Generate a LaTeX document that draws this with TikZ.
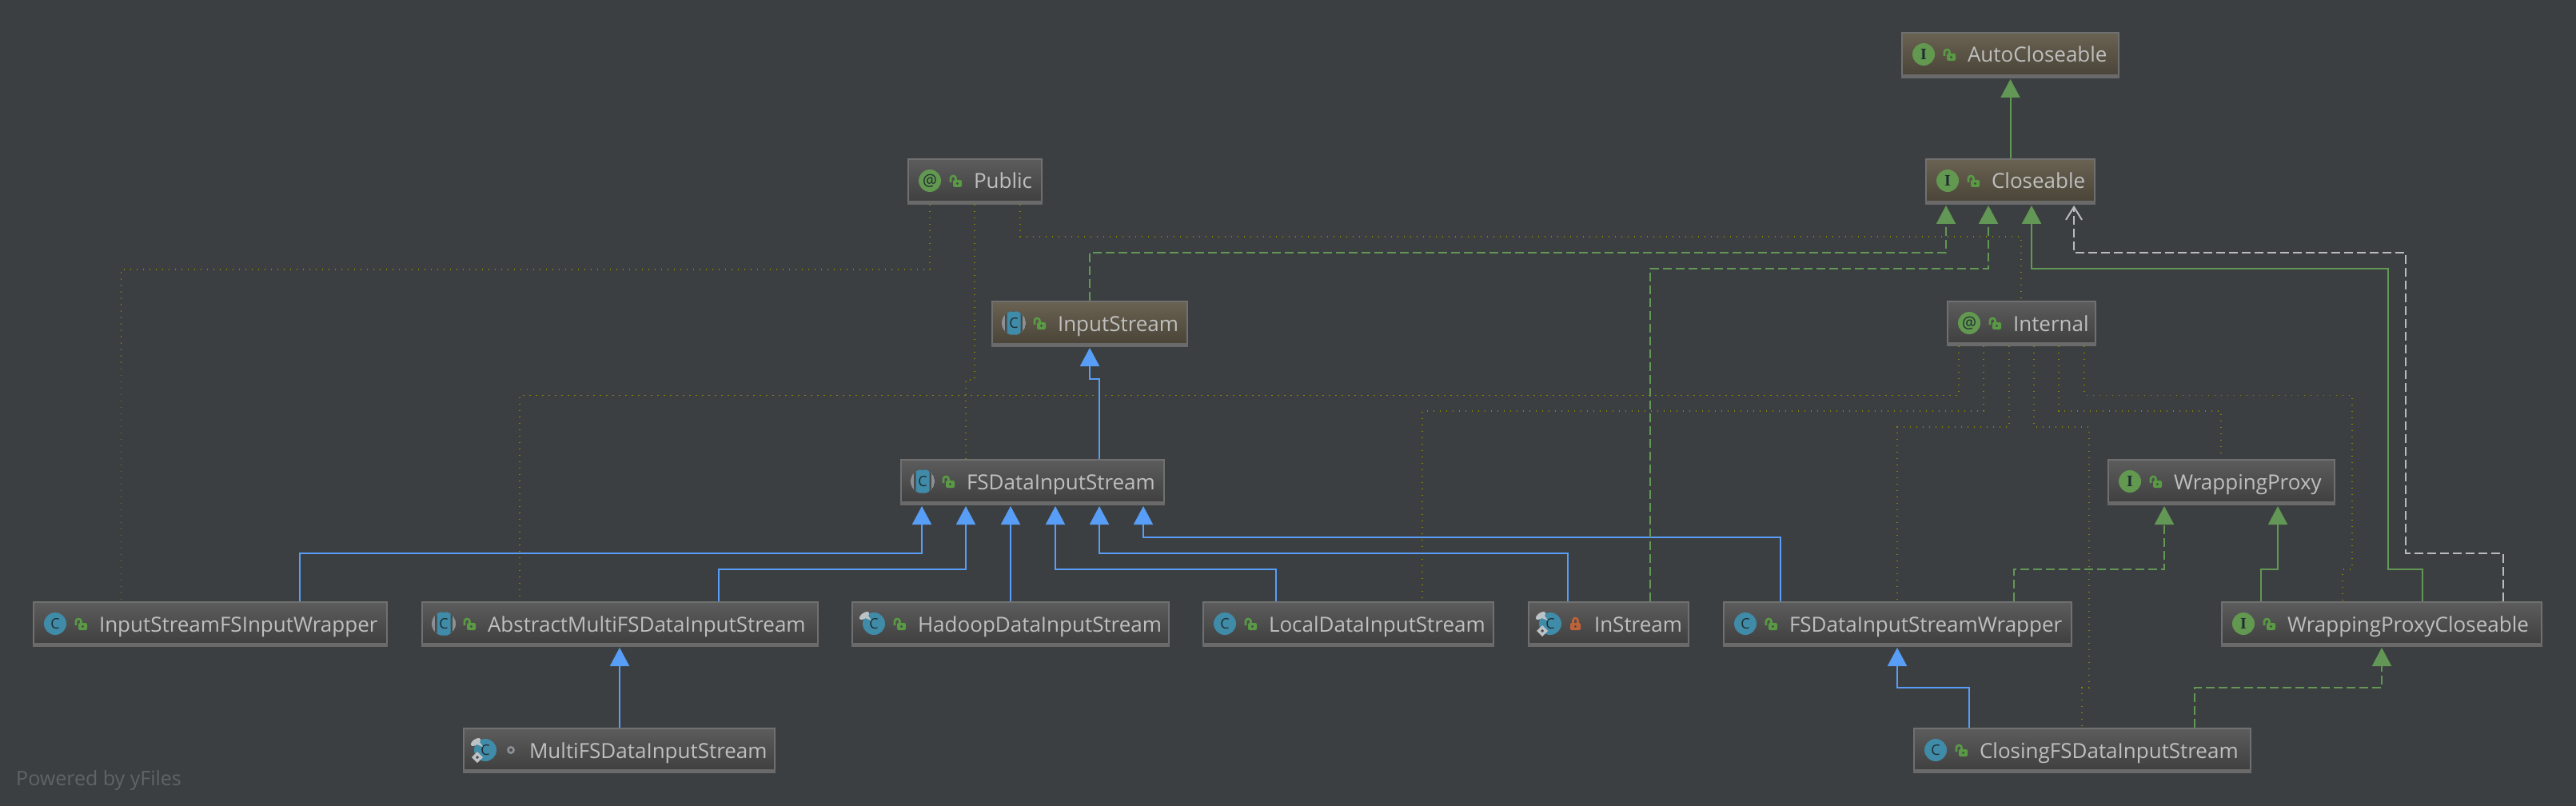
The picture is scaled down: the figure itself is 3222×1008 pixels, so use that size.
\documentclass[tikz,border=0pt]{standalone}
\usepackage{fontspec}
\setmainfont{Open Sans}
\newfontfamily\serifbold{Liberation Serif}
\usetikzlibrary{arrows.meta,calc}
\definecolor{bgc}{HTML}{3C3F41}
\definecolor{txt}{HTML}{BFBFBF}
\definecolor{bord}{HTML}{707070}
\definecolor{bar}{HTML}{6A6A6A}
\definecolor{blueline}{HTML}{589DF6}
\definecolor{greenline}{HTML}{629755}
\definecolor{grayline}{HTML}{BBBBBB}
\definecolor{dotc}{HTML}{858500}
\definecolor{classc}{HTML}{3F8BA8}
\definecolor{greenc}{HTML}{62984F}
\definecolor{lockg}{HTML}{5A9A45}
\definecolor{locko}{HTML}{BF6238}
\definecolor{icontxt}{HTML}{1F2D33}
\definecolor{pale}{HTML}{BCC2C5}
\definecolor{ringc}{HTML}{8C9094}
\definecolor{boxtop}{HTML}{5C5C5C}
\definecolor{boxbot}{HTML}{3E3E3E}
\definecolor{browntop}{HTML}{6A6252}
\definecolor{brownbot}{HTML}{484337}
\definecolor{gapc}{HTML}{4A4A4A}
\definecolor{yfc}{HTML}{606466}
\tikzset{
  x=1pt,y=-1pt,
  plainbox/.style={draw=bord,line width=2pt,inner sep=0pt,top color=boxtop,bottom color=boxbot,text=txt,font=\fontsize{26}{30}\selectfont},
  brownbox/.style={plainbox,top color=browntop,bottom color=brownbot},
  iconc/.style={circle,inner sep=0pt,minimum size=28pt,text=icontxt},
  ext/.style={draw=blueline,line width=2pt,shorten >=1pt,-{Triangle[width=24pt,length=23pt,fill=blueline]}},
  inh/.style={draw=greenline,line width=2pt,shorten >=1pt,-{Triangle[width=24pt,length=23pt,fill=greenline]}},
  impl/.style={inh,dash pattern=on 11pt off 5pt},
  dep/.style={draw=grayline,line width=2pt,dash pattern=on 11pt off 5pt,shorten >=1pt,-{Straight Barb[width=20pt,length=16pt]}},
  note/.style={draw=dotc,line width=1.2pt,dash pattern=on 1.2pt off 6.8pt},
}
% icons, in coordinates relative to the box corner
\newcommand{\icC}{\node[iconc,fill=classc,font=\fontsize{18}{18}\selectfont] at (28,28) {C};}
\newcommand{\icI}{\node[iconc,fill=greenc,font=\fontsize{20}{20}\serifbold\bfseries] at (28,28) {I};}
\newcommand{\icAt}{\node[iconc,fill=greenc,font=\fontsize{20}{20}\selectfont] at (28,28) {@};}
\newcommand{\icA}{%
  \begin{scope}
    \clip (28,28) circle[radius=15];
    \fill[ringc] (28,28) circle[radius=15];
    \fill[gapc] (17,13) rectangle (39,43);
    \fill[classc,rounded corners=3pt] (19.5,13.5) rectangle (36.5,42.5);
  \end{scope}
  \node[text=icontxt,inner sep=0pt,font=\fontsize{18}{18}\selectfont] at (28,28) {C};}
\newcommand{\pinmark}{%
  \fill[pale] (15,20) -- (19,15) -- (25,24) -- cycle;
  \fill[pale,rotate around={35:(16,18)}] (16,18) ellipse[x radius=7,y radius=3.5];}
\newcommand{\diamark}{\fill[pale] (18,30) -- (25,37) -- (18,44) -- (11,37) -- cycle;
  \fill[gapc] (18,35) -- (20,37) -- (18,39) -- (16,37) -- cycle;}
\newcommand{\icH}{\icC\pinmark}
\newcommand{\icF}{\icC\pinmark\diamark}
\newcommand{\lockopen}{%
  \draw[lockg,line width=2.6pt,rounded corners=3pt] (54,30) -- (54,22) -- (60.5,22) -- (60.5,27);
  \fill[lockg,rounded corners=2pt] (57,27) rectangle (68,36);
  \fill[gapc] (62.5,31.5) circle[radius=1.6];}
\newcommand{\lockshut}{%
  \draw[locko,line width=2.6pt,rounded corners=3pt] (56.5,27) -- (56.5,21) -- (62.5,21) -- (62.5,27);
  \fill[locko,rounded corners=2pt] (53,27) rectangle (66,36);
  \fill[gapc] (59.5,31.5) circle[radius=1.6];}
\newcommand{\lockpkg}{%
  \fill[ringc] (60,28) circle[radius=5];
  \fill[gapc] (60,28) circle[radius=2];}
% id, left, top, right, bottom, style, icon, access, text
\newcommand{\umlbox}[9]{%
  \pgfmathsetlengthmacro{\bw}{#4-#2-2}%
  \pgfmathsetlengthmacro{\bh}{#5-#3-2}%
  \pgfmathsetlengthmacro{\bd}{#5-#3-2-37}%
  \begin{scope}[shift={(#2,#3)}]
    \node[#6,minimum width=\bw,minimum height=\bh,anchor=north west] (#1) at (0,0)
      {\hbox to \bw{\hspace{82pt}\rule[-\bd]{0pt}{\bh}#9\hss}};
    \fill[bar] (#1.south west) rectangle ++(#4-#2,-5);
    #7#8
  \end{scope}}
\begin{document}
\begin{tikzpicture}
\useasboundingbox (0,0) rectangle (3222,1008);
\fill[bgc] (0,0) rectangle (3222,1008);

\umlbox{auto}{2378}{40}{2651}{98}{brownbox}{\icI}{\lockopen}{AutoCloseable}
\umlbox{close}{2408}{198}{2621}{256}{brownbox}{\icI}{\lockopen}{Closeable}
\umlbox{pub}{1135}{198}{1304}{256}{plainbox}{\icAt}{\lockopen}{Public}
\umlbox{inp}{1240}{376}{1486}{434}{brownbox}{\icA}{\lockopen}{InputStream}
\umlbox{int}{2435}{376}{2622}{433}{plainbox}{\icAt}{\lockopen}{Internal}
\umlbox{fsd}{1126}{574}{1457}{632}{plainbox}{\icA}{\lockopen}{FSDataInputStream}
\umlbox{wp}{2636}{574}{2921}{632}{plainbox}{\icI}{\lockopen}{WrappingProxy}
\umlbox{isw}{41}{752}{485}{809}{plainbox}{\icC}{\lockopen}{InputStreamFSInputWrapper}
\umlbox{abs}{527}{752}{1024}{809}{plainbox}{\icA}{\lockopen}{AbstractMultiFSDataInputStream}
\umlbox{had}{1065}{752}{1463}{809}{plainbox}{\icH}{\lockopen}{HadoopDataInputStream}
\umlbox{loc}{1504}{752}{1869}{809}{plainbox}{\icC}{\lockopen}{LocalDataInputStream}
\umlbox{ins}{1911}{752}{2113}{809}{plainbox}{\icF}{\lockshut}{InStream}
\umlbox{fsw}{2155}{752}{2592}{809}{plainbox}{\icC}{\lockopen}{FSDataInputStreamWrapper}
\umlbox{wpc}{2778}{752}{3180}{809}{plainbox}{\icI}{\lockopen}{WrappingProxyCloseable}
\umlbox{mul}{579}{910}{970}{967}{plainbox}{\icF}{\lockpkg}{MultiFSDataInputStream}
\umlbox{cls}{2393}{910}{2816}{967}{plainbox}{\icC}{\lockopen}{ClosingFSDataInputStream}

\node[anchor=west,inner sep=0pt,text=yfc,font=\fontsize{25}{28}\selectfont] (yf) at (20,976) {Powered by yFiles};

% annotation links
\draw[note] (1163,0 |- pub.south) -- (1163,337) -- (151.5,337) -- (151.5,0 |- isw.north);
\draw[note] (1219,0 |- pub.south) -- (1219,475) -- (1208,475) -- (1208,0 |- fsd.north);
\draw[note] (1276,0 |- pub.south) -- (1276,296) -- (2528,296) -- (2528,0 |- int.north);
\draw[note] (2450,0 |- int.south) -- (2450,494.5) -- (650,494.5) -- (650,0 |- abs.north);
\draw[note] (2481,0 |- int.south) -- (2481,514) -- (1779,514) -- (1779,0 |- loc.north);
\draw[note] (2513,0 |- int.south) -- (2513,534) -- (2373,534) -- (2373,0 |- fsw.north);
\draw[note] (2544,0 |- int.south) -- (2544,534) -- (2613,534) -- (2613,860) -- (2604,860) -- (2604,0 |- cls.north);
\draw[note] (2575,0 |- int.south) -- (2575,514) -- (2778,514) -- (2778,0 |- wp.north);
\draw[note] (2607,0 |- int.south) -- (2607,494.5) -- (2942,494.5) -- (2942,712) -- (2930,712) -- (2930,0 |- wpc.north);

% class inheritance
\draw[ext] (1375,0 |- fsd.north) -- (1375,474) -- (1363,474) -- (1363,0 |- inp.south);
\draw[ext] (374.6,0 |- isw.north) -- (374.6,692) -- (1153,692) -- (1153,0 |- fsd.south);
\draw[ext] (899,0 |- abs.north) -- (899,712) -- (1208,712) -- (1208,0 |- fsd.south);
\draw[ext] (1264,0 |- had.north) -- (1264,0 |- fsd.south);
\draw[ext] (1596,0 |- loc.north) -- (1596,712) -- (1320,712) -- (1320,0 |- fsd.south);
\draw[ext] (1961,0 |- ins.north) -- (1961,692) -- (1375,692) -- (1375,0 |- fsd.south);
\draw[ext] (2227,0 |- fsw.north) -- (2227,672) -- (1430,672) -- (1430,0 |- fsd.south);
\draw[ext] (775,0 |- mul.north) -- (775,0 |- abs.south);
\draw[ext] (2463,0 |- cls.north) -- (2463,860) -- (2373,860) -- (2373,0 |- fsw.south);

% interface links
\draw[inh] (2514.5,0 |- close.north) -- (2514.5,0 |- auto.south);
\draw[impl] (1363,0 |- inp.north) -- (1363,316) -- (2434,316) -- (2434,0 |- close.south);
\draw[impl] (2064,0 |- ins.north) -- (2064,336) -- (2487,336) -- (2487,0 |- close.south);
\draw[inh] (3030,0 |- wpc.north) -- (3030,712) -- (2987,712) -- (2987,336) -- (2541,336) -- (2541,0 |- close.south);
\draw[dep] (3131,0 |- wpc.north) -- (3131,692) -- (3009,692) -- (3009,316) -- (2594,316) -- (2594,0 |- close.south);
\draw[impl] (2519,0 |- fsw.north) -- (2519,712) -- (2707,712) -- (2707,0 |- wp.south);
\draw[inh] (2828,0 |- wpc.north) -- (2828,712) -- (2849,712) -- (2849,0 |- wp.south);
\draw[impl] (2745,0 |- cls.north) -- (2745,860) -- (2979,860) -- (2979,0 |- wpc.south);
\end{tikzpicture}
\end{document}
